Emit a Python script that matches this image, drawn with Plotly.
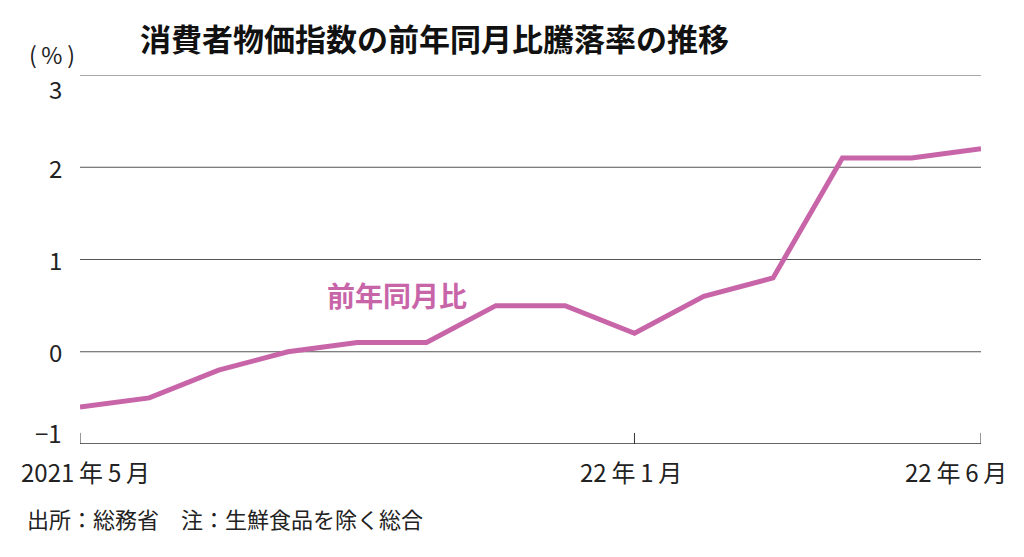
import plotly.graph_objects as go

months = ["2021-05", "2021-06", "2021-07", "2021-08", "2021-09", "2021-10", "2021-11",
          "2021-12", "2022-01", "2022-02", "2022-03", "2022-04", "2022-05", "2022-06"]
values = [-0.6, -0.5, -0.2, 0.0, 0.1, 0.1, 0.5, 0.5, 0.2, 0.6, 0.8, 2.1, 2.1, 2.2]
y_ticks = [3, 2, 1, 0, -1]
y_tick_labels = ["3", "2", "1", "0", "−1"]
grid_vals = [3, 2, 1, 0]
x_tick_idx = [0, 8, 13]
x_tick_labels = ["2021\u2009年\u20095\u2009月", "22\u2009年\u20091\u2009月", "22\u2009年\u20096\u2009月"]

FONT = "Noto Sans CJK JP"
LINE_COLOR = "#C865A8"
x_idx = list(range(len(months)))

fig = go.Figure()
fig.add_trace(go.Scatter(x=x_idx, y=values, mode="lines",
                         line=dict(color=LINE_COLOR, width=5), hoverinfo="skip",
                         showlegend=False, cliponaxis=False))

fig.update_layout(
    width=1024, height=557,
    margin=dict(l=80, r=43, t=75, b=113),
    paper_bgcolor="white", plot_bgcolor="white",
    font=dict(family=FONT, color="#222"),
    xaxis=dict(range=[0, 13], showgrid=False, zeroline=False, showline=False,
               showticklabels=False, fixedrange=True),
    yaxis=dict(range=[-1, 3], showticklabels=False, showgrid=False,
               zeroline=False, showline=False, fixedrange=True),
    showlegend=False,
)

shapes = []
for g in grid_vals:
    shapes.append(dict(type="line", xref="x", yref="y", x0=0, x1=13, y0=g, y1=g,
                       line=dict(color="#555", width=1), layer="below"))
# bottom axis line at -1
shapes.append(dict(type="line", xref="x", yref="y", x0=0, x1=13, y0=-1, y1=-1,
                   line=dict(color="#333", width=1.5)))
# ticks pointing up from axis
for i in x_tick_idx:
    shapes.append(dict(type="line", xref="x", yref="y", x0=i, x1=i, y0=-1, y1=-0.88,
                       line=dict(color="#333", width=1)))
fig.update_layout(shapes=shapes)

annots = []
shifts = {3: -13, -1: 12}
for v, t in zip(y_ticks, y_tick_labels):
    annots.append(dict(xref="paper", yref="y", x=0, y=v, text=t, showarrow=False,
                       xanchor="right", xshift=-16, yshift=shifts.get(v, 0),
                       font=dict(family=FONT, size=24, color="#222")))
x_shift = {0: 5, 8: -3, 13: -25}
for i, t in zip(x_tick_idx, x_tick_labels):
    annots.append(dict(xref="x", yref="paper", x=i, y=0, text=t, showarrow=False,
                       xanchor="center", yanchor="top", yshift=-8, xshift=x_shift[i],
                       font=dict(family=FONT, size=24, color="#222")))
annots.append(dict(xref="paper", yref="paper", x=0, y=1, text="(\u2009%\u2009)", showarrow=False,
                   xanchor="right", yanchor="bottom", xshift=-3, yshift=2,
                   font=dict(family=FONT, size=23, color="#222")))
annots.append(dict(xref="x", yref="y", x=4.57, y=0.62, text="<b>前年同月比</b>", showarrow=False,
                   xanchor="center", font=dict(family=FONT, size=28, color=LINE_COLOR)))
annots.append(dict(xref="paper", yref="paper", x=-55/901, y=0, text="出所：総務省　注：生鮮食品を除く総合",
                   showarrow=False, xanchor="left", yanchor="top", yshift=-56,
                   font=dict(family=FONT, size=22, color="#222")))
fig.update_layout(annotations=annots)

fig.update_layout(title=dict(text="<b>消費者物価指数の前年同月比騰落率の推移</b>",
                             x=140/1024, xanchor="left", y=1 - 40/557, yanchor="middle",
                             font=dict(family=FONT, size=31, color="#111")))

fig.write_html("out.html")
